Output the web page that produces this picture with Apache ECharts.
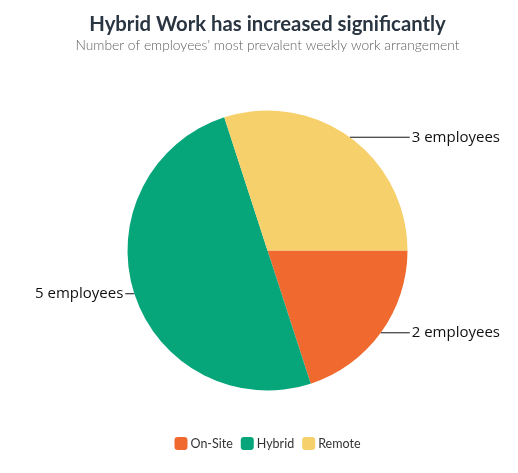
<!DOCTYPE html>
<html>
<head>
<meta charset="utf-8">
<script src="https://cdn.jsdelivr.net/npm/echarts@6/dist/echarts.min.js"></script>
<style>
html,body{margin:0;padding:0;background:#fff;}
#chart{position:absolute;left:17px;top:0;width:501px;height:473px;}
</style>
</head>
<body>
<div id="chart"></div>
<script>
const categories = ['On-Site', 'Hybrid', 'Remote'];
const values = [2, 5, 3];
const colors = ['#F06A2F', '#07A57A', '#F6D06B'];

const chart = echarts.init(document.getElementById('chart'), null, {renderer: 'canvas'});
chart.setOption({
  animation: false,
  color: colors,
  title: {
    text: 'Hybrid Work has increased significantly',
    subtext: "Number of employees' most prevalent weekly work arrangement",
    left: 'center',
    top: 9,
    itemGap: 5,
    textStyle: {fontFamily: 'Lato', fontWeight: 'bold', fontSize: 20.3, color: '#2A3542'},
    subtextStyle: {fontFamily: 'Lato', fontWeight: 300, fontSize: 13.8, color: '#5f5f5f'}
  },
  legend: {
    data: categories,
    left: 'center',
    top: 432,
    icon: 'roundRect',
    itemWidth: 13,
    itemHeight: 13,
    itemGap: 8,
    textStyle: {fontFamily: 'Lato', fontSize: 12.5, color: '#333', padding: [0, 0, 0, -2]}
  },
  series: [{
    type: 'pie',
    top: 64,
    bottom: 36,
    left: 0,
    right: 0,
    center: ['50%', '50%'],
    radius: 140,
    startAngle: 0,
    clockwise: true,
    data: categories.map((c, i) => ({name: c, value: values[i]})),
    label: {
      show: true,
      formatter: '{c} employees',
      fontFamily: 'Open Sans',
      fontSize: 15,
      color: '#111',
      alignTo: 'edge',
      edgeDistance: 18,
      distanceToLabelLine: 2,
      overflow: 'none'
    },
    labelLine: {
      show: true,
      length: 0,
      length2: 4,
      lineStyle: {color: '#111', width: 1}
    },
    emphasis: {disabled: true}
  }]
});
</script>
</body>
</html>
